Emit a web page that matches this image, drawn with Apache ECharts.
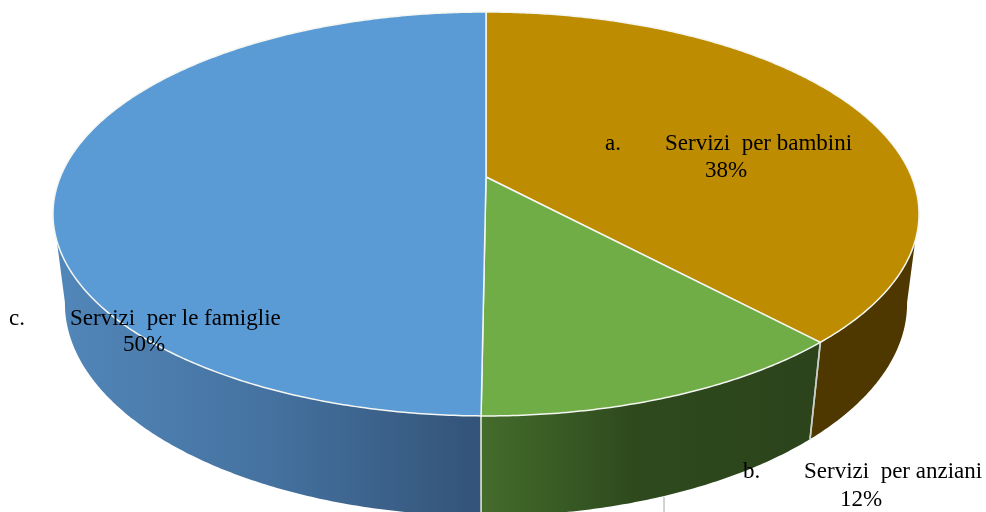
<!DOCTYPE html>
<html><head><meta charset="utf-8">
<style>html,body{margin:0;padding:0;background:#fff;overflow:hidden}#c{width:986px;height:512px}</style>
<script src="https://cdn.jsdelivr.net/npm/echarts@6/dist/echarts.min.js"></script>
</head><body><div id="c"></div>
<script>
const categories = ['Servizi  per bambini', 'Servizi  per anziani', 'Servizi  per le famiglie'];
const markers = ['a.', 'b.', 'c.'];
const values = [38.1, 12.05, 49.85];

// Projection of the tilted disc (fitted to the picture)
const CX = 486, CY = 177, AX = 425.7, BY = 195.2, P = 0.183, DEPTH_Y = 91, DEPTH_W = 0.0274;
const total = values.reduce((a, b) => a + b, 0);
function project(deg, z) {
  const t = deg * Math.PI / 180, u = Math.sin(t), v = -Math.cos(t);
  const w = 1 - P * v + DEPTH_W * z;
  return [CX + AX * u / w, CY + (BY * v + DEPTH_Y * z) / w];
}
function arc(a, b, z) {
  const out = [], n = Math.max(2, Math.ceil(Math.abs(b - a) / 0.5));
  for (let i = 0; i <= n; i++) out.push(project(a + (b - a) * i / n, z));
  return out;
}
const topFill = ['#BD8C00', '#70AD47', '#5B9BD5'];
const wallFill = [
  '#4E3800',
  new echarts.graphic.LinearGradient(0, 0, 1, 0, [
    {offset: 0, color: '#446C2C'}, {offset: 0.45, color: '#2E4A1D'}, {offset: 1, color: '#2C431B'}]),
  new echarts.graphic.LinearGradient(0, 0, 1, 0, [
    {offset: 0, color: '#5287BA'}, {offset: 0.5, color: '#4572A0'}, {offset: 1, color: '#335378'}])
];
const labelPos = [
  {m: [605, 155], t: [665, 155], p: [726, 182]},
  {m: [743, 483], t: [804, 483], p: [861, 511]},
  {m: [9, 330], t: [70, 330], p: [144, 356]}
];
const FONT = '23px "Liberation Serif", "Times New Roman", serif';
const VIS = [100, 260];   // part of the rim that faces the viewer
let startAngles = [], acc = 0;
values.forEach(v => { startAngles.push(acc); acc += v / total * 360; });

function txt(s, pos, align) {
  return {type: 'text', z2: 50, silent: true,
    style: {text: s, x: pos[0], y: pos[1], font: FONT, fill: '#000', align: align || 'left', verticalAlign: 'bottom', textBaseline: 'alphabetic'}};
}
function renderItem(params, api) {
  const i = params.dataIndex, val = api.value(0);
  const a = startAngles[i], b = a + val / total * 360;
  const kids = [];
  const wa = Math.max(a, VIS[0]), wb = Math.min(b, VIS[1]);
  if (wb > wa) {
    const up = arc(wa, wb, 0), low = arc(wa, wb, 1).reverse();
    kids.push({type: 'polygon', z2: 1, shape: {points: up.concat(low)}, style: {fill: wallFill[i], stroke: null}});
  }
  [a, b].forEach(d => {
    if (d > VIS[0] && d < VIS[1]) kids.push({type: 'line', z2: 3,
      shape: {x1: project(d, 0)[0], y1: project(d, 0)[1], x2: project(d, 1)[0], y2: project(d, 1)[1]},
      style: {stroke: '#C9D0C8', lineWidth: 1.6}});
  });
  kids.push({type: 'polygon', z2: 5, shape: {points: [[CX, CY]].concat(arc(a, b, 0))},
    style: {fill: topFill[i], stroke: '#F4F6F2', lineWidth: 1.5, lineJoin: 'round'}});
  const lp = labelPos[i];
  kids.push(txt(markers[i], lp.m), txt(categories[i], lp.t), txt(Math.round(val / total * 100) + '%', lp.p, 'center'));
  if (i === 1) kids.push({type: 'line', z2: 6, shape: {x1: 664, y1: 497, x2: 664, y2: 512}, style: {stroke: '#A6A6A6', lineWidth: 1}});
  return {type: 'group', children: kids};
}
const chart = echarts.init(document.getElementById('c'), null, {renderer: 'canvas', width: 986, height: 512});
chart.setOption({
  animation: false,
  backgroundColor: '#ffffff',
  series: [{type: 'custom', coordinateSystem: 'none', renderItem, clip: false,
    encode: {value: 0}, data: values.map((v, i) => ({name: categories[i], value: [v]}))}]
});
</script></body></html>
